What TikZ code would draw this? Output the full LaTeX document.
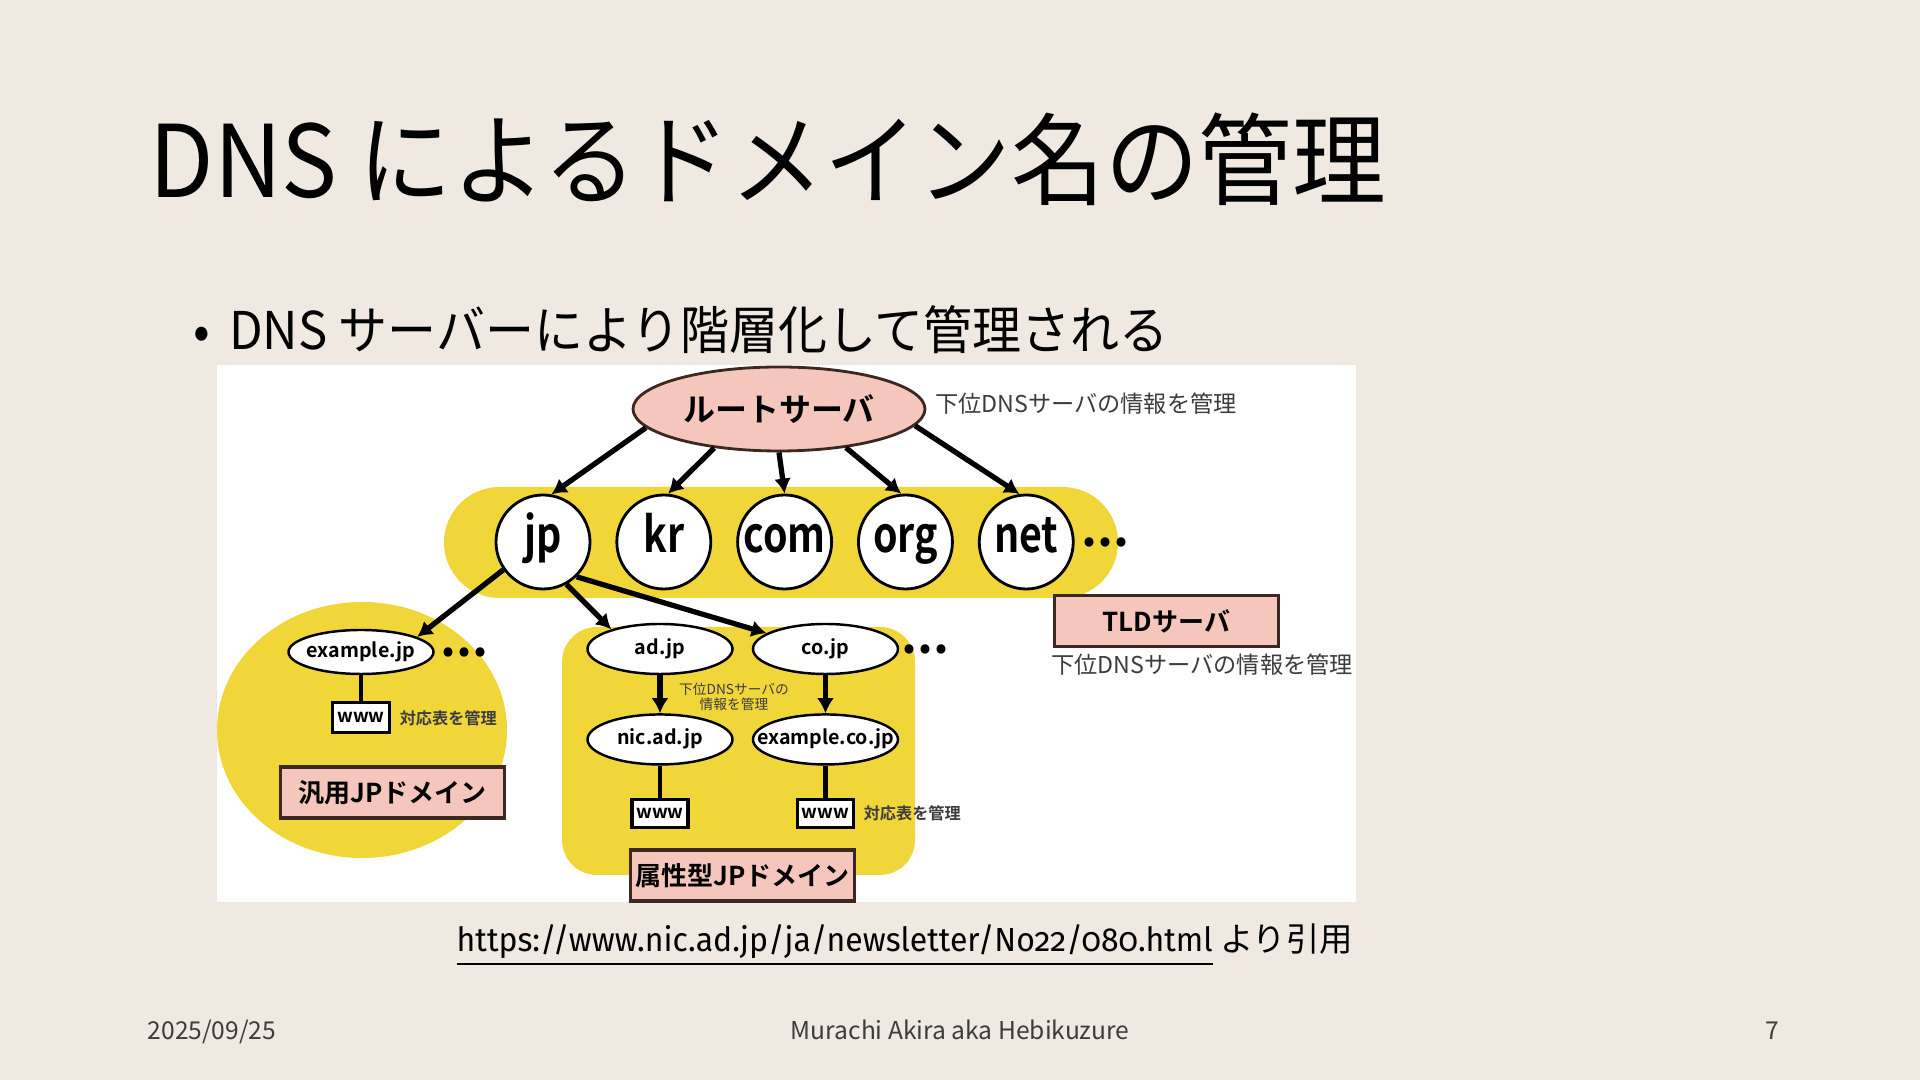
\documentclass[tikz,border=0pt]{standalone}
\usepackage{fontspec}
\usepackage{graphicx}
\setmainfont{Noto Sans CJK JP}[BoldFont={Noto Sans CJK JP Bold}]
\newfontfamily\urlfont{Fira Sans}[Numbers=OldStyle]
\usetikzlibrary{positioning}
\usetikzlibrary{shapes.geometric}
\usetikzlibrary{arrows.meta}
\definecolor{slidebg}{RGB}{239,233,226}
\definecolor{mapyellow}{RGB}{241,214,58}
\definecolor{serverpink}{RGB}{244,198,188}
\definecolor{boxedge}{RGB}{60,40,32}
\definecolor{notegray}{RGB}{60,60,60}
\newcommand{\tldtext}[1]{\scalebox{0.8}[1]{#1}}
\tikzset{
    tld/.style={circle, draw, line width=0.8pt, fill=white, minimum size=0.94cm, inner sep=0pt, text height=0.3cm, text depth=0.08cm, font=\fontsize{14}{14}\selectfont\bfseries},
    dom/.style={ellipse, draw, line width=0.7pt, fill=white, minimum width=1.45cm, minimum height=0.5cm, inner xsep=-0.3cm, inner ysep=0pt, text height=0.15cm, text depth=0.04cm, font=\fontsize{5.6}{6}\selectfont\bfseries},
    wwwbox/.style={rectangle, draw, line width=0.9pt, fill=white, minimum width=0.56cm, minimum height=0.28cm, inner sep=0pt, font=\fontsize{5.2}{6}\selectfont\bfseries},
    kindbox/.style={rectangle, draw=boxedge, line width=1pt, fill=serverpink, minimum width=2.24cm, minimum height=0.51cm, inner sep=0pt, font=\fontsize{7.4}{8}\selectfont\bfseries},
    note/.style={inner sep=0pt, text=notegray, font=\fontsize{6.6}{7}\selectfont},
    tinynote/.style={inner sep=0pt, text=notegray, font=\fontsize{4.6}{5}\selectfont\bfseries},
    more/.style={inner sep=0pt, font=\fontsize{14}{14}\selectfont\bfseries},
    tierarrow/.style={line width=1.5pt, -{Latex[length=0.15cm,width=0.17cm]}},
    tieline/.style={line width=1.4pt},
}
\begin{document}
\begin{tikzpicture}
            \useasboundingbox (0,0) rectangle (19.2,10.8);
            \fill[slidebg] (0,0) rectangle (19.2,10.8);

            \node (title) [anchor=base west, inner sep=0pt, font=\fontsize{28.5}{30}\selectfont] at (1.49,8.82) {\scalebox{0.935}[1]{DNS によるドメイン名の管理}};
            \node (point) [anchor=base west, inner sep=0pt, font=\fontsize{14.8}{16}\selectfont] at (1.93,7.30) {\scalebox{0.942}[1]{\textbullet\hspace{0.2cm}DNS サーバーにより階層化して管理される}};

            \fill[white] (2.17,1.78) rectangle (13.56,7.15);
            \begin{scope}
                \clip (2.17,1.78) rectangle (13.56,7.15);
                \fill[mapyellow] (3.62,3.50) ellipse [x radius=1.45, y radius=1.28];
            \end{scope}
            \fill[mapyellow, rounded corners=0.555cm] (4.44,4.82) rectangle (11.18,5.93);
            \fill[mapyellow, rounded corners=0.35cm] (5.62,2.05) rectangle (9.15,4.53);

            \node (root) [ellipse, draw=boxedge, line width=0.8pt, fill=serverpink, minimum width=2.92cm, minimum height=0.84cm, inner sep=0pt, font=\fontsize{9.1}{10}\selectfont\bfseries] at (7.79,6.71) {ルートサーバ};
            \node (rootnote) [note, right=0.08cm of root, yshift=0.05cm] {下位DNSサーバの情報を管理};

            \node (jp)  [tld] at (5.43,5.38)      {\tldtext{jp}};
            \node (kr)  [tld, right=0.24cm of jp]  {\tldtext{kr}};
            \node (com) [tld, right=0.24cm of kr]  {\tldtext{com}};
            \node (org) [tld, right=0.24cm of com] {\tldtext{org}};
            \node (net) [tld, right=0.24cm of org] {\tldtext{net}};
            \node (tldmore) [more, right=0.06cm of net] {...};

            \node (tldbox)  [kindbox] at (11.665,4.59) {TLDサーバ};
            \node (tldnote) [note, below=0.05cm of tldbox.south west, anchor=north west, xshift=-0.02cm] {下位DNSサーバの情報を管理};

            \node (exjp)   [dom, minimum height=0.44cm] at (3.61,4.28) {example.jp};
            \node (exmore) [more, right=0.05cm of exjp] {...};
            \node (exwww)  [wwwbox, minimum width=0.57cm, minimum height=0.30cm, below=0.26cm of exjp] {www};
            \node (exnote) [tinynote, right=0.08cm of exwww] {対応表を管理};
            \node (generic) [kindbox] at (3.925,2.875) {汎用JPドメイン};

            \node (adjp)   [dom] at (6.60,4.31)            {ad.jp};
            \node (cojp)   [dom, right=0.18cm of adjp]     {co.jp};
            \node (comore) [more, right=0.02cm of cojp]    {...};
            \node (nicjp)  [dom, below=0.38cm of adjp]     {nic.ad.jp};
            \node (excojp) [dom, below=0.38cm of cojp]     {example.co.jp};
            \node (adwww)  [wwwbox, below=0.32cm of nicjp] {www};
            \node (cowww)  [wwwbox, below=0.32cm of excojp] {www};
            \node (conote) [tinynote, right=0.08cm of cowww] {対応表を管理};
            \node (midnote) [inner sep=0pt, text=notegray, align=center, font=\fontsize{3.9}{4.4}\selectfont] at (7.34,3.83) {下位DNSサーバの\\情報を管理};
            \node (attr) [kindbox] at (7.425,2.045) {属性型JPドメイン};

            \draw[tierarrow] (root.188) -- (jp.80);
            \draw[tierarrow] (root.211) -- (kr.85);
            \draw[tierarrow] (root.270) -- (com.90);
            \draw[tierarrow] (root.330) -- (org.95);
            \draw[tierarrow] (root.353) -- (net.98);
            \draw[tierarrow] (jp.215) -- (exjp.15);
            \draw[tierarrow] (jp.299) -- (adjp.158);
            \draw[tierarrow] (jp.314) -- (cojp.165);
            \draw[tierarrow] (adjp) -- (nicjp);
            \draw[tierarrow] (cojp) -- (excojp);
            \draw[tieline] (exjp) -- (exwww);
            \draw[tieline] (nicjp) -- (adwww);
            \draw[tieline] (excojp) -- (cowww);

            \node (source) [anchor=base west, inner sep=0pt, font=\fontsize{9.5}{11}\selectfont] at (4.56,1.28) {\scalebox{0.958}[1]{\urlfont\underline{https://www.nic.ad.jp/ja/newsletter/No22/080.html}} より引用};

            \node (date)   [anchor=base west, inner sep=0pt, text=notegray, font=\fontsize{7}{8}\selectfont] at (1.47,0.40) {2025/09/25};
            \node (author) [anchor=base, inner sep=0pt, text=notegray, font=\fontsize{7}{8}\selectfont] at (9.60,0.40) {Murachi Akira aka Hebikuzure};
            \node (page)   [anchor=base west, inner sep=0pt, text=notegray, font=\fontsize{7}{8}\selectfont] at (17.65,0.40) {7};
        \end{tikzpicture}
\end{document}
